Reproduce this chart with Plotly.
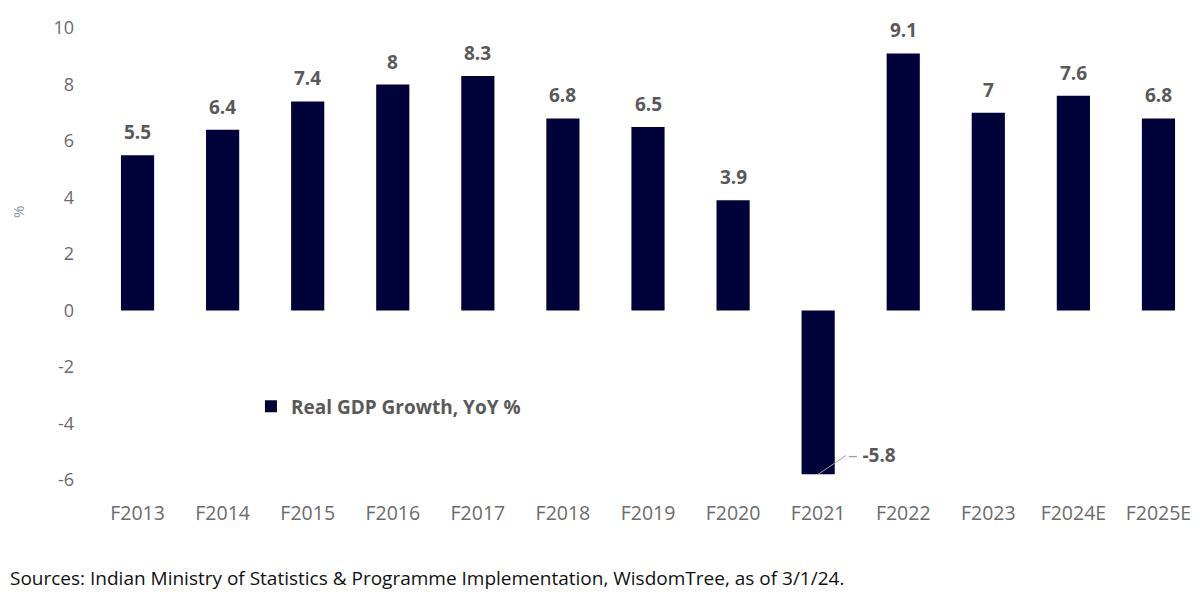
import plotly.graph_objects as go

years = ['F2013', 'F2014', 'F2015', 'F2016', 'F2017', 'F2018', 'F2019',
         'F2020', 'F2021', 'F2022', 'F2023', 'F2024E', 'F2025E']
growth = [5.5, 6.4, 7.4, 8, 8.3, 6.8, 6.5, 3.9, -5.8, 9.1, 7, 7.6, 6.8]
y_ticks = [-6, -4, -2, 0, 2, 4, 6, 8, 10]

grey = '#595959'
tick_grey = '#6b6b6b'
navy = '#02023a'
fnt = 'Open Sans'

fig = go.Figure()
fig.add_trace(go.Bar(x=years, y=growth, name='Real GDP Growth, YoY %',
                     marker=dict(color=navy, line=dict(width=0)),
                     showlegend=True))

# value labels: on top of positive bars, callout for the negative one
for yr, v in zip(years, growth):
  if v >= 0:
    fig.add_annotation(x=yr, y=v, text=str(v), showarrow=False, yanchor='bottom', yshift=8,
                       font=dict(family=fnt, size=19, color=grey, weight='bold'))
  else:
    fig.add_annotation(x=yr, y=v,
                       text='<span style="color:#a0a0a0;font-weight:normal">\u2013</span> ' + str(v),
                       showarrow=True, arrowhead=0, arrowwidth=1, arrowcolor='#a0a0a0',
                       ax=28, ay=-19, xanchor='left',
                       font=dict(family=fnt, size=19, color=grey, weight='bold'))

fig.add_annotation(x=0, y=0.593, xref='paper', yref='paper', xanchor='center', yanchor='middle',
                   text='%', textangle=-90, showarrow=False, xshift=-77,
                   font=dict(family=fnt, size=15, color='#8a93a0'))

fig.add_annotation(x=0, y=0, xref='paper', yref='paper', xanchor='left', yanchor='middle',
                   text='Sources: Indian Ministry of Statistics & Programme Implementation, WisdomTree, as of 3/1/24.',
                   showarrow=False, xshift=-87, yshift=-98,
                   font=dict(family=fnt, size=19, color='#111111'))

fig.update_layout(
  width=1200, height=606,
  margin=dict(l=87, r=7, t=17, b=134),
  plot_bgcolor='white', paper_bgcolor='white',
  bargap=0.61,
  font=dict(family=fnt, color=tick_grey, size=17),
  legend=dict(x=0.141, y=0.163, xanchor='left', yanchor='middle',
              font=dict(family=fnt, size=19, color=grey, weight='bold'),
              bgcolor='rgba(0,0,0,0)'),
  xaxis=dict(showgrid=False, showline=False, ticks='', ticklabelstandoff=19,
             tickfont=dict(size=19.5, color=tick_grey)),
  yaxis=dict(range=[-6, 10], tickvals=y_ticks, ticktext=[str(t) for t in y_ticks],
             showgrid=False, zeroline=False, showline=False, ticks='', ticklabelstandoff=20,
             tickfont=dict(size=18, color=tick_grey)),
)

fig.write_html('out.html')
